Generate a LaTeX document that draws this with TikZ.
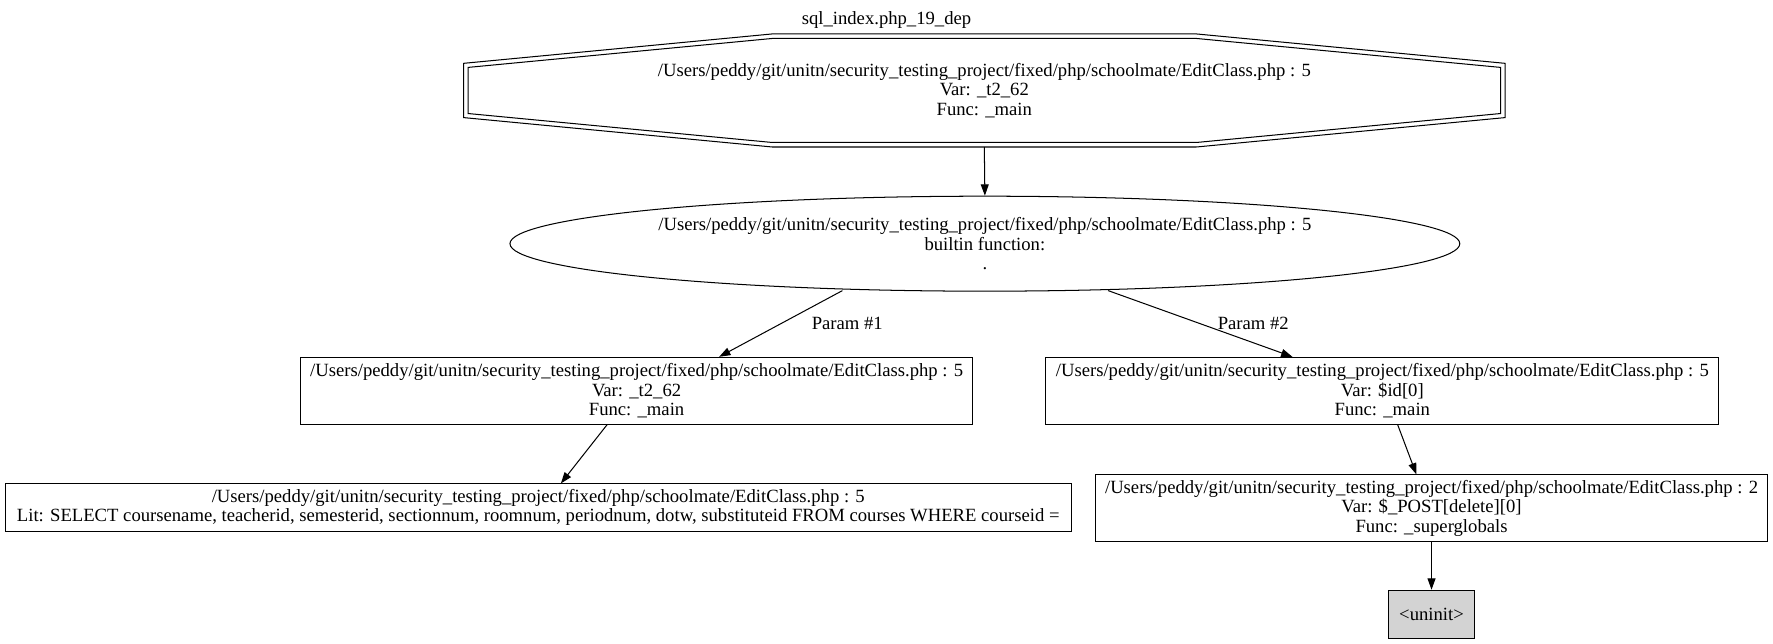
\documentclass[tikz,border=0pt]{standalone}
\usepackage{fontspec}
\setmainfont{Liberation Serif}
\usetikzlibrary{shapes.geometric,arrows.meta,calc}
\begin{document}
\begin{tikzpicture}[x=1pt,y=-1pt,
  every node/.style={font=\fontsize{16.5}{17}\selectfont, align=center, inner sep=0pt},
  gbox/.style={draw, line width=0.9pt, rectangle, minimum width=#1},
  three/.style={minimum height=59pt},
  two/.style={minimum height=42pt},
  link/.style={draw, line width=0.9pt, -{Triangle[length=10pt,width=7pt]}},
  octline/.style={draw, line width=0.9pt}]
\useasboundingbox (0,0) rectangle (1568,568.7);

% title
\node (title) at (784,18) {sql\_index.php\_19\_dep};

% octagon (double border)
\node (oct) at (870.5,80) {/Users/peddy/git/unitn/security\_testing\_project/fixed/php/schoolmate/EditClass.php : 5\\Var: \_t2\_62\\Func: \_main};
\draw[octline] (683,30) -- (1058,30) -- (1331,56) -- (1331,104) -- (1058,130) -- (683,130) -- (410,104) -- (410,56) -- cycle;
\draw[octline] (683,34) -- (1058,34) -- (1327,59.6) -- (1327,100.4) -- (1058,126) -- (683,126) -- (414,100.4) -- (414,59.6) -- cycle;
\coordinate (octb) at (870.5,130);

% ellipse
\node[draw, line width=0.9pt, ellipse, minimum width=840pt, minimum height=84pt] (ell) at (871,215.5)
  {/Users/peddy/git/unitn/security\_testing\_project/fixed/php/schoolmate/EditClass.php : 5\\builtin function:\\.};

% boxes
\node[gbox=594pt, three] (lbox) at (563,345.5)
  {/Users/peddy/git/unitn/security\_testing\_project/fixed/php/schoolmate/EditClass.php : 5\\Var: \_t2\_62\\Func: \_main};
\node[gbox=595pt, three] (rbox) at (1222.5,345.5)
  {/Users/peddy/git/unitn/security\_testing\_project/fixed/php/schoolmate/EditClass.php : 5\\Var: \$id[0]\\Func: \_main};
\node[gbox=943pt, two] (lit) at (476,449)
  {/Users/peddy/git/unitn/security\_testing\_project/fixed/php/schoolmate/EditClass.php : 5\\Lit: SELECT coursename, teacherid, semesterid, sectionnum, roomnum, periodnum, dotw, substituteid FROM courses WHERE courseid =};
\node[gbox=594pt, three] (post) at (1266,449.5)
  {/Users/peddy/git/unitn/security\_testing\_project/fixed/php/schoolmate/EditClass.php : 2\\Var: \$\_POST[delete][0]\\Func: \_superglobals};
\node[gbox=76pt, minimum height=43pt, fill={rgb,255:red,211;green,211;blue,211}] (uninit) at (1266,543.5) {<uninit>};

% edges
\draw[link] (octb) -- (ell.north);
\draw[link] ($(ell.center)+(-126,41.5)$) -- node[pos=0.5, anchor=west, xshift=27pt] {Param \#1} ($(lbox.north)+(73,0)$);
\draw[link] ($(ell.center)+(109,41.5)$) -- node[pos=0.5, anchor=west, xshift=15pt] {Param \#2} ($(rbox.north)+(-79.5,0)$);
\draw[link] ($(lbox.south)+(-26,0)$) -- ($(lit.north)+(20,0)$);
\draw[link] ($(rbox.south)+(13.5,0)$) -- ($(post.north)+(-13.4,0)$);
\draw[link] (post.south) -- (uninit.north);
\end{tikzpicture}
\end{document}
